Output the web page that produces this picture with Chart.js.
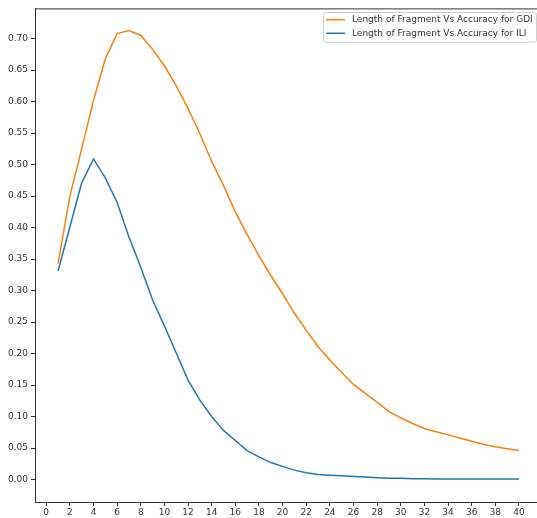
<!DOCTYPE html>
<html>
<head>
<meta charset="utf-8">
<script src="https://cdn.jsdelivr.net/npm/chart.js@4"></script>
<style>
    body { margin: 0; background: #fff; overflow: hidden; }
    #wrap { width: 537px; height: 518px; overflow: hidden; }
</style>
</head>
<body>
<div id="wrap">
    <canvas id="lengthChart" width="542" height="518"></canvas>
</div>
<script>
// Chart data
const fragmentLengths = [1, 2, 3, 4, 5, 6, 7, 8, 9, 10, 11, 12, 13, 14, 15, 16, 17, 18, 19, 20,
    21, 22, 23, 24, 25, 26, 27, 28, 29, 30, 31, 32, 33, 34, 35, 36, 37, 38, 39, 40];

const gdiAccuracy = [0.343, 0.450, 0.525, 0.602, 0.668, 0.708, 0.713, 0.705, 0.683, 0.657,
    0.625, 0.589, 0.549, 0.505, 0.467, 0.425, 0.389, 0.355, 0.324, 0.295,
    0.264, 0.237, 0.211, 0.190, 0.170, 0.151, 0.137, 0.123, 0.108, 0.098,
    0.089, 0.081, 0.076, 0.071, 0.066, 0.061, 0.056, 0.052, 0.049, 0.046];

const iliAccuracy = [0.331, 0.401, 0.471, 0.509, 0.479, 0.440, 0.385, 0.337, 0.285, 0.244,
    0.201, 0.158, 0.126, 0.100, 0.078, 0.062, 0.046, 0.036, 0.027, 0.021,
    0.015, 0.011, 0.008, 0.007, 0.006, 0.005, 0.004, 0.003, 0.002, 0.002,
    0.0015, 0.0015, 0.001, 0.001, 0.001, 0.001, 0.001, 0.001, 0.001, 0.001];

const seriesLabels = ['Length of Fragment Vs Accuracy for GDI', 'Length of Fragment Vs Accuracy for ILI'];
const xTicks = [0, 2, 4, 6, 8, 10, 12, 14, 16, 18, 20, 22, 24, 26, 28, 30, 32, 34, 36, 38, 40];
const yTicks = [0, 0.05, 0.10, 0.15, 0.20, 0.25, 0.30, 0.35, 0.40, 0.45, 0.50, 0.55, 0.60, 0.65, 0.70];

const FONT = 'DejaVu Sans';
const TEXT_COLOR = '#333';

// top spine only (right one is cropped off in the reference)
const frameLines = {
    id: 'frameLines',
    afterDraw(chart) {
        const { ctx, chartArea } = chart;
        ctx.save();
        ctx.strokeStyle = '#333';
        ctx.lineWidth = 1;
        ctx.beginPath();
        ctx.moveTo(chartArea.left, chartArea.top + 0.5);
        ctx.lineTo(chartArea.right + 10, chartArea.top + 0.5);
        ctx.stroke();
        ctx.restore();
    }
};

// legend drawn inside the plot, upper right
const insideLegend = {
    id: 'insideLegend',
    afterDraw(chart) {
        const { ctx } = chart;
        const datasets = chart.data.datasets;
        const left = 323.5, top = 12.5, right = 536.5, rowH = 13.6;
        const height = datasets.length * rowH + 2.5;
        ctx.save();
        ctx.fillStyle = 'rgba(255,255,255,0.8)';
        ctx.strokeStyle = '#d0d0d0';
        ctx.lineWidth = 1;
        ctx.beginPath();
        ctx.roundRect(left, top, right - left, height, 2);
        ctx.fill();
        ctx.stroke();
        ctx.font = '9px ' + FONT;
        ctx.textBaseline = 'middle';
        datasets.forEach((ds, i) => {
            const y = top + 7.2 + i * rowH;
            ctx.strokeStyle = ds.borderColor;
            ctx.lineWidth = 1.5;
            ctx.beginPath();
            ctx.moveTo(326, y);
            ctx.lineTo(345, y);
            ctx.stroke();
            ctx.fillStyle = TEXT_COLOR;
            ctx.fillText(ds.label, 352, y);
        });
        ctx.restore();
    }
};

const ctx = document.getElementById('lengthChart').getContext('2d');
window.lengthChart = new Chart(ctx, {
    type: 'line',
    data: {
        labels: fragmentLengths,
        datasets: [
            {
                label: seriesLabels[0],
                data: fragmentLengths.map((x, i) => ({ x: x, y: gdiAccuracy[i] })),
                borderColor: '#ff7f0e',
                borderWidth: 1.5,
                pointRadius: 0,
                tension: 0,
                fill: false
            },
            {
                label: seriesLabels[1],
                data: fragmentLengths.map((x, i) => ({ x: x, y: iliAccuracy[i] })),
                borderColor: '#1f77b4',
                borderWidth: 1.5,
                pointRadius: 0,
                tension: 0,
                fill: false
            }
        ]
    },
    options: {
        responsive: false,
        animation: false,
        layout: { padding: { top: 7, right: -6, left: 0, bottom: 0 } },
        plugins: {
            legend: { display: false },
            tooltip: { enabled: false }
        },
        scales: {
            x: {
                type: 'linear',
                min: -0.95,
                max: 41.95,
                afterBuildTicks: scale => { scale.ticks = xTicks.map(v => ({ value: v })); },
                afterFit: scale => { scale.height = 16; },
                border: { display: true, color: '#333', width: 1 },
                grid: { drawOnChartArea: false, drawTicks: true, tickLength: 4, color: '#333' },
                ticks: {
                    color: TEXT_COLOR,
                    font: { family: FONT, size: 9 },
                    padding: 1,
                    maxRotation: 0,
                    autoSkip: false,
                    callback: v => String(v)
                }
            },
            y: {
                min: -0.0356,
                max: 0.748,
                afterBuildTicks: scale => { scale.ticks = yTicks.map(v => ({ value: v })); },
                afterFit: scale => { scale.width = 35; },
                border: { display: true, color: '#333', width: 1 },
                grid: { drawOnChartArea: false, drawTicks: true, tickLength: 4, color: '#333' },
                ticks: {
                    color: TEXT_COLOR,
                    font: { family: FONT, size: 9 },
                    padding: 3,
                    autoSkip: false,
                    callback: v => v.toFixed(2)
                }
            }
        }
    },
    plugins: [frameLines, insideLegend]
});
</script>
</body>
</html>
